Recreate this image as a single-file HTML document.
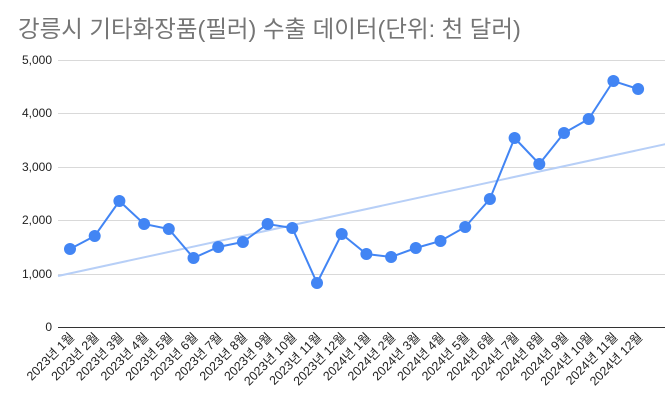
<!DOCTYPE html><html><head><meta charset="utf-8"><style>body{margin:0;background:#fff}svg{display:block}</style></head><body>
<svg width="665" height="411" xmlns="http://www.w3.org/2000/svg" font-family="Liberation Sans, Noto Sans CJK KR, sans-serif">
<text x="18" y="37" font-size="23.5" fill="#757575">강릉시 기타화장품(필러) 수출 데이터(단위: 천 달러)</text>
<g stroke="#d9d9d9" stroke-width="1">
<line x1="58" x2="680" y1="60.5" y2="60.5"/><line x1="58" x2="680" y1="113.5" y2="113.5"/><line x1="58" x2="680" y1="167.5" y2="167.5"/><line x1="58" x2="680" y1="220.5" y2="220.5"/><line x1="58" x2="680" y1="274.5" y2="274.5"/></g>
<line x1="58" x2="680" y1="327.5" y2="327.5" stroke="#333" stroke-width="1"/>
<g font-size="12" fill="#222" text-anchor="end">
<text x="52" y="64">5,000</text><text x="52" y="117">4,000</text><text x="52" y="171">3,000</text><text x="52" y="224">2,000</text><text x="52" y="278">1,000</text><text x="52" y="331">0</text></g>
<line x1="58" y1="276" x2="680" y2="141" stroke="#b7cff7" stroke-width="2"/>
<g id="s"></g>
<g id="l" font-size="12.5" fill="#222" text-anchor="end"></g>
<script>
var ys=[249,236,201,224,229,258,247,242,224,228,283,234,254,257,248,241,227,199,138,164,133,119,81,89];
var ns="http://www.w3.org/2000/svg",s=document.getElementById('s'),l=document.getElementById('l'),pts=[];
for(var i=0;i<24;i++){var x=70+i*24.7;pts.push(x+','+ys[i]);}
var p=document.createElementNS(ns,'polyline');p.setAttribute('points',pts.join(' '));p.setAttribute('fill','none');p.setAttribute('stroke','#4285f4');p.setAttribute('stroke-width','2');s.appendChild(p);
for(var i=0;i<24;i++){var x=70+i*24.7;var c=document.createElementNS(ns,'circle');c.setAttribute('cx',x);c.setAttribute('cy',ys[i]);c.setAttribute('r','6');c.setAttribute('fill','#4285f4');s.appendChild(c);
var t=document.createElementNS(ns,'text');var tx=x+5,ty=338;t.setAttribute('x',tx);t.setAttribute('y',ty);t.setAttribute('transform','rotate(-45 '+tx+' '+ty+')');t.textContent=(i<12?'2023':'2024')+'년 '+(i%12+1)+'월';l.appendChild(t);}
</script>
</svg></body></html>
